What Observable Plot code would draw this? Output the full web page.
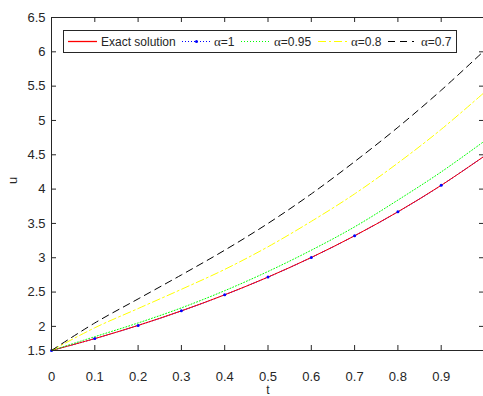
<!DOCTYPE html>
<html>
<head>
<meta charset="utf-8">
<script src="https://cdn.jsdelivr.net/npm/d3@7"></script>
<script src="https://cdn.jsdelivr.net/npm/@observablehq/plot@0.6"></script>
<style>
  html, body { margin: 0; padding: 0; background: #fff; }
  #chart { position: relative; width: 483px; height: 396px; overflow: hidden; }
  svg { font-family: "Liberation Sans", Arial, Helvetica, sans-serif; }
</style>
</head>
<body>
<div id="chart"></div>
<script>
// ---- data ----
const t        = [0, 0.1, 0.2, 0.3, 0.4, 0.5, 0.6, 0.7, 0.8, 0.9, 1.0];
const exact    = [1.649, 1.822, 2.014, 2.226, 2.460, 2.718, 3.004, 3.320, 3.669, 4.055, 4.482];
const alpha1   = [1.649, 1.822, 2.014, 2.226, 2.460, 2.718, 3.004, 3.320, 3.669, 4.055, 4.482];
const alpha095 = [1.649, 1.850, 2.050, 2.270, 2.520, 2.800, 3.110, 3.450, 3.840, 4.250, 4.700];
const alpha08  = [1.649, 1.980, 2.260, 2.540, 2.830, 3.160, 3.530, 3.930, 4.380, 4.870, 5.410];
const alpha07  = [1.649, 2.050, 2.400, 2.750, 3.110, 3.500, 3.930, 4.400, 4.900, 5.440, 6.020];

const xTicks      = [0, 0.1, 0.2, 0.3, 0.4, 0.5, 0.6, 0.7, 0.8, 0.9, 1];
const xTickLabels = ["0", "0.1", "0.2", "0.3", "0.4", "0.5", "0.6", "0.7", "0.8", "0.9", "1"];
const yTicks      = [1.6487, 2, 2.5, 3, 3.5, 4, 4.5, 5, 5.5, 6, 6.5];
const yTickLabels = ["1.5", "2", "2.5", "3", "3.5", "4", "4.5", "5", "5.5", "6", "6.5"];
const xLabel = "t";
const yLabel = "u";

const seriesNames = ["Exact solution", "=1", "=0.95", "=0.8", "=0.7"];
const seriesColors = ["#ff0000", "#0000ff", "#00ff00", "#ffff00", "#000000"];
const seriesDash = [null, "1,2", "1,2", "8,3,2,3", "7,5"];

const rows = (vals) => t.map((x, i) => ({t: x, u: vals[i]}));
const axisColor = "#262626";
const visibleLabelCount = 10; // the "1" label falls outside the cropped picture

const W = 483, H = 396, mL = 51, mR = -1, mT = 17, mB = 46;
const innerW = W - mL - mR, innerH = H - mT - mB, tickLen = 5;

const chart = Plot.plot({
  width: W,
  height: H,
  marginLeft: mL,
  marginRight: mR,
  marginTop: mT,
  marginBottom: mB,
  style: {fontFamily: "Liberation Sans, Arial, sans-serif", fontSize: "13px", color: axisColor, background: "#fff"},
  x: {domain: [0, 1]},
  y: {domain: [1.6487, 6.5]},
  marks: [
    Plot.line(rows(alpha1),   {x: "t", y: "u", stroke: seriesColors[1], strokeWidth: 1, strokeDasharray: seriesDash[1], curve: "catmull-rom"}),
    Plot.line(rows(exact),    {x: "t", y: "u", stroke: seriesColors[0], strokeWidth: 1, curve: "catmull-rom"}),
    Plot.dot(rows(alpha1),    {x: "t", y: "u", fill: seriesColors[1], r: 1.5}),
    Plot.line(rows(alpha095), {x: "t", y: "u", stroke: seriesColors[2], strokeWidth: 1, strokeDasharray: seriesDash[2], curve: "catmull-rom"}),
    Plot.line(rows(alpha08),  {x: "t", y: "u", stroke: seriesColors[3], strokeWidth: 1, strokeDasharray: seriesDash[3], curve: "catmull-rom"}),
    Plot.line(rows(alpha07),  {x: "t", y: "u", stroke: seriesColors[4], strokeWidth: 1, strokeDasharray: seriesDash[4], curve: "catmull-rom"}),
    Plot.frame({stroke: axisColor, strokeWidth: 1}),
    // tick labels
    Plot.axisX({anchor: "bottom", ticks: xTicks.slice(0, visibleLabelCount), tickFormat: (d, i) => xTickLabels[i], tickSize: 0, tickPadding: 21, label: null, color: axisColor}),
    Plot.axisY({anchor: "left", ticks: yTicks, tickFormat: (d, i) => yTickLabels[i], tickSize: 0, tickPadding: 6, label: null, color: axisColor}),
    // inward tick marks on all four sides
    Plot.tickX(xTicks, {x: d => d, insetTop: innerH - tickLen, stroke: axisColor}),
    Plot.tickX(xTicks, {x: d => d, insetBottom: innerH - tickLen, stroke: axisColor}),
    Plot.tickY(yTicks, {y: d => d, insetRight: innerW - tickLen, stroke: axisColor}),
    Plot.tickY(yTicks, {y: d => d, insetLeft: innerW - tickLen, stroke: axisColor}),
    // axis titles
    Plot.text([xLabel], {frameAnchor: "bottom", dy: 43, text: d => d, fontSize: 12, fill: axisColor}),
    Plot.text([yLabel], {frameAnchor: "left", dx: -39, rotate: -90, text: d => d, fontSize: 13, fill: axisColor})
  ]
});

document.getElementById("chart").appendChild(chart);

// ---- legend box (inside the plot area, as in the reference) ----
const svg = d3.select(chart);
const lg = svg.append("g").attr("class", "legend").attr("font-size", 12).attr("fill", axisColor).attr("text-anchor", "start");
const box = {x: 63.5, y: 30.5, w: 393, h: 22};
lg.append("rect").attr("x", box.x).attr("y", box.y).attr("width", box.w).attr("height", box.h)
  .attr("fill", "#fff").attr("stroke", axisColor).attr("stroke-width", 1);
const cy = 41.5;
const entries = [
  {x0: 68, x1: 97, tx: 101},
  {x0: 182, x1: 211, tx: 214, alpha: true, marker: true},
  {x0: 241, x1: 271, tx: 274, alpha: true},
  {x0: 318, x1: 347, tx: 351, alpha: true},
  {x0: 388, x1: 414, tx: 421, alpha: true}
];
entries.forEach((e, i) => {
  const ln = lg.append("path")
    .attr("d", `M${e.x0},${cy}H${e.x1}`)
    .attr("fill", "none")
    .style("stroke", seriesColors[i])
    .style("stroke-width", i === 0 ? "1.3px" : "1px");
  if (seriesDash[i]) ln.style("stroke-dasharray", seriesDash[i]);
  if (e.marker) lg.append("circle").attr("cx", (e.x0 + e.x1) / 2).attr("cy", cy).attr("r", 1.5).style("fill", seriesColors[i]);
  const txt = lg.append("text").attr("x", e.tx).attr("y", cy).attr("dy", "0.35em");
  if (e.alpha) {
    txt.append("tspan").attr("font-family", "Liberation Serif, DejaVu Serif, serif").attr("font-size", 13).text("α");
  }
  txt.append("tspan").text(seriesNames[i]);
});
</script>
</body>
</html>
